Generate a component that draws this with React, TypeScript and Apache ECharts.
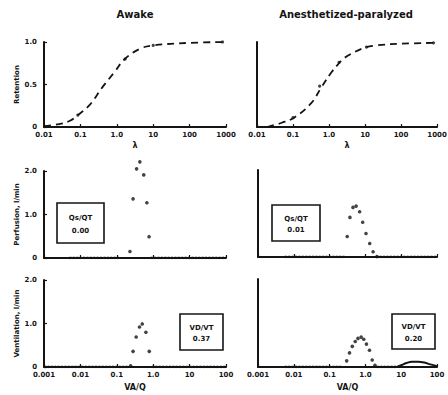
import React, { useEffect, useRef } from 'react';
import * as echarts from 'echarts';

// ---------- data ----------
const columnTitles = ['Awake', 'Anesthetized-paralyzed'];
const rowNames = ['Retention', 'Perfusion, l/min', 'Ventilation, l/min'];
const lambdaLabels = ['0.01', '0.1', '1.0', '10', '100', '1000'];
const vaqLabels = ['0.001', '0.01', '0.1', '1.0', '10', '100'];

// retention vs partition coefficient (lambda)
const retentionAwakeCurve = [
  [0.01, 0.01], [0.023, 0.03], [0.05, 0.07], [0.085, 0.14], [0.18, 0.26], [0.39, 0.46],
  [0.88, 0.65], [1.66, 0.8], [4.3, 0.92], [10, 0.96], [100, 0.99], [1000, 1.0],
];
const retentionAwakeMeasured = [[0.085, 0.14], [1.7, 0.8], [10, 0.96], [800, 1.0]];
const retentionAnesCurve = [
  [0.019, 0.0], [0.049, 0.05], [0.107, 0.11], [0.32, 0.28], [0.6, 0.46], [1.2, 0.65],
  [1.9, 0.75], [2.6, 0.81], [9.3, 0.93], [21, 0.96], [100, 0.98], [1000, 0.99],
];
const retentionAnesMeasured = [[0.1, 0.11], [0.55, 0.48], [1.9, 0.76], [11, 0.94], [800, 0.99]];

// perfusion distributions (VA/Q, l/min)
const perfusionAwake = [
  [0.23, 0.15], [0.28, 1.36], [0.35, 2.05], [0.43, 2.21], [0.55, 1.91], [0.67, 1.27], [0.77, 0.49],
];
const perfusionAwakeZero = [[[0.005, 0], [0.12, 0]], [[0.85, 0], [100, 0]]];
const perfusionAnes = [
  [0.31, 0.47], [0.37, 0.91], [0.45, 1.14], [0.55, 1.17], [0.69, 1.04], [0.84, 0.8],
  [1.04, 0.54], [1.32, 0.31], [1.64, 0.12], [2.1, 0.01],
];
const perfusionAnesZero = [[[0.0056, 0], [0.26, 0]], [[2.0, 0], [100, 0]]];

// ventilation distributions
const ventilationAwake = [
  [0.24, 0.03], [0.28, 0.36], [0.34, 0.69], [0.42, 0.92], [0.5, 0.99], [0.63, 0.8], [0.78, 0.36],
];
const ventilationAwakeZero = [[[0.001, 0], [0.2, 0]], [[0.92, 0], [100, 0]]];
const ventilationAnes = [
  [0.3, 0.14], [0.36, 0.32], [0.43, 0.47], [0.52, 0.58], [0.62, 0.65], [0.76, 0.68],
  [0.9, 0.63], [1.07, 0.52], [1.3, 0.38], [1.55, 0.16], [1.85, 0.04],
];
const ventilationAnesHigh = [
  [7.5, 0], [10, 0.04], [14, 0.09], [20, 0.12], [30, 0.12], [45, 0.1], [65, 0.06], [100, 0.02],
];
const ventilationAnesZero = [[[0.0056, 0], [0.23, 0]], [[2.1, 0], [7.5, 0]]];

const boxLabels = [
  { name: 'Qs/QT', value: '0.00' },
  { name: 'Qs/QT', value: '0.01' },
  { name: 'VD/VT', value: '0.37' },
  { name: 'VD/VT', value: '0.20' },
];

// ---------- layout ----------
const INK = '#141414';
const FONT = '"DejaVu Sans", Arial, sans-serif';

const grids = [
  { left: 44, top: 42, width: 182, height: 85 },
  { left: 257, top: 42, width: 180, height: 85 },
  { left: 44, top: 171, width: 182, height: 87 },
  { left: 258, top: 170, width: 179, height: 87 },
  { left: 44, top: 280, width: 182, height: 87 },
  { left: 258, top: 279, width: 179, height: 88 },
];

const boxes = [
  { x: 57, y: 203, w: 47, h: 40 },
  { x: 272, y: 205, w: 48, h: 36 },
  { x: 180, y: 314, w: 43, h: 36 },
  { x: 392, y: 314, w: 43, h: 35 },
];

function logLabel(labels: string[], minExp: number) {
  return (v: number) => {
    const i = Math.round(Math.log10(v)) - minExp;
    return labels[i] ?? '';
  };
}

export default function App() {
  const ref = useRef<HTMLDivElement>(null);
  useEffect(() => {
    if (!ref.current) return;
    const chart = echarts.init(ref.current, undefined, { renderer: 'svg' });

    const axisLine = { show: true, onZero: false, lineStyle: { color: INK, width: 2 } };
    const tickStyle = { show: true, inside: true, length: 3, lineStyle: { color: INK, width: 1.2 } };
    const labelFont = { color: INK, fontSize: 7, fontWeight: 'bold' as const, fontFamily: FONT };

    const xAxis: any[] = grids.map((_, i) => {
      const row = Math.floor(i / 2);
      const isLambda = row === 0;
      return {
        type: 'log',
        gridIndex: i,
        logBase: 10,
        min: isLambda ? 0.01 : 0.001,
        max: isLambda ? 1000 : 100,
        splitNumber: 5,
        axisLine,
        axisTick: tickStyle,
        splitLine: { show: false },
        minorTick: { show: false },
        axisLabel: {
          show: row !== 1,
          ...labelFont,
          margin: 4,
          formatter: isLambda ? logLabel(lambdaLabels, -2) : logLabel(vaqLabels, -3),
        },
        name: row === 0 ? 'λ' : row === 2 ? 'VA/Q' : '',
        nameLocation: 'middle',
        nameGap: row === 0 ? 14 : 16,
        nameTextStyle: { color: INK, fontSize: 8, fontWeight: 'bold', fontFamily: FONT },
      };
    });

    const yAxis: any[] = grids.map((_, i) => {
      const row = Math.floor(i / 2);
      const col = i % 2;
      const isRet = row === 0;
      return {
        type: 'value',
        gridIndex: i,
        min: 0,
        max: isRet ? 1 : 2,
        interval: isRet ? 0.5 : 1,
        axisLine,
        axisTick: { ...tickStyle, show: col === 0 },
        splitLine: { show: false },
        axisLabel: {
          show: col === 0,
          ...labelFont,
          margin: 7,
          formatter: (v: number) => (v === 0 ? '0' : v.toFixed(1)),
        },
        name: col === 0 ? rowNames[row] : '',
        nameLocation: 'middle',
        nameGap: 24,
        nameRotate: 90,
        nameTextStyle: { color: INK, fontSize: 7, fontWeight: 'bold', fontFamily: FONT },
      };
    });

    const dashed = (data: number[][], idx: number) => ({
      type: 'line', xAxisIndex: idx, yAxisIndex: idx, data, smooth: 0.4, symbol: 'none',
      lineStyle: { color: INK, width: 1.8, type: [7, 5] }, silent: true,
    });
    const dots = (data: number[][], idx: number, size = 3.6) => ({
      type: 'scatter', xAxisIndex: idx, yAxisIndex: idx, data, symbol: 'circle', symbolSize: size,
      itemStyle: { color: INK }, silent: true, clip: false,
    });
    const zeroLine = (data: number[][], idx: number) => ({
      type: 'line', xAxisIndex: idx, yAxisIndex: idx, data, symbol: 'none',
      lineStyle: { color: INK, width: 2.4, type: [2, 1.4] }, silent: true,
    });

    const series: any[] = [
      dashed(retentionAwakeCurve, 0),
      dots(retentionAwakeMeasured, 0, 3.2),
      dashed(retentionAnesCurve, 1),
      dots(retentionAnesMeasured, 1, 3.2),
      dots(perfusionAwake, 2),
      ...perfusionAwakeZero.map((d) => zeroLine(d, 2)),
      dots(perfusionAnes, 3),
      ...perfusionAnesZero.map((d) => zeroLine(d, 3)),
      dots(ventilationAwake, 4),
      ...ventilationAwakeZero.map((d) => zeroLine(d, 4)),
      dots(ventilationAnes, 5),
      ...ventilationAnesZero.map((d) => zeroLine(d, 5)),
      {
        type: 'line', xAxisIndex: 5, yAxisIndex: 5, data: ventilationAnesHigh, smooth: 0.4,
        symbol: 'none', lineStyle: { color: INK, width: 2 }, silent: true,
      },
    ];

    const graphic: any[] = [
      {
        type: 'text', x: 135, y: 14,
        style: { text: columnTitles[0], fill: INK, font: `bold 10px ${FONT}`, align: 'center', verticalAlign: 'middle' },
      },
      {
        type: 'text', x: 346, y: 14,
        style: { text: columnTitles[1], fill: INK, font: `bold 10px ${FONT}`, align: 'center', verticalAlign: 'middle' },
      },
    ];
    boxes.forEach((b, i) => {
      const cx = b.x + b.w / 2;
      graphic.push({
        type: 'rect',
        shape: { x: b.x, y: b.y, width: b.w, height: b.h },
        style: { fill: '#fff', stroke: INK, lineWidth: 1.6 },
        z: 10,
      });
      graphic.push({
        type: 'text', x: cx, y: b.y + b.h * 0.38, z: 11,
        style: { text: boxLabels[i].name, fill: INK, font: `bold 7px ${FONT}`, align: 'center', verticalAlign: 'middle' },
      });
      graphic.push({
        type: 'text', x: cx, y: b.y + b.h * 0.7, z: 11,
        style: { text: boxLabels[i].value, fill: INK, font: `bold 7px ${FONT}`, align: 'center', verticalAlign: 'middle' },
      });
    });

    chart.setOption({
      animation: false,
      backgroundColor: '#ffffff',
      grid: grids.map((g) => ({ ...g, containLabel: false, outerBoundsMode: 'none' })),
      xAxis,
      yAxis,
      series,
      graphic,
    });
    return () => chart.dispose();
  }, []);

  return (
    <div
      ref={ref}
      style={{ position: 'fixed', left: 0, top: 0, width: 448, height: 395, background: '#fff' }}
    />
  );
}
